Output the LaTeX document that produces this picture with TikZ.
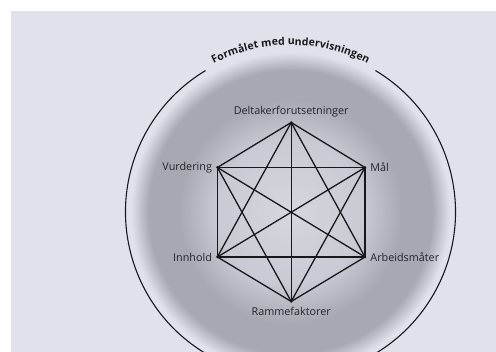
\documentclass[tikz,border=0pt]{standalone}
\usepackage{fontspec}
\setmainfont{Open Sans}
\usepackage{xcolor}
\usetikzlibrary{decorations.text}

\definecolor{pagebg}{RGB}{225,225,235}
\definecolor{discin}{RGB}{214,214,223}
\definecolor{discmid}{RGB}{202,202,212}
\definecolor{discring}{RGB}{168,168,179}
\definecolor{linecol}{RGB}{24,24,28}
\definecolor{labcol}{RGB}{35,35,40}

\pgfdeclareradialshading{discshade}{\pgfpoint{0bp}{0bp}}{%
  color(0bp)=(discin); color(11bp)=(discmid); color(17bp)=(discring);
  color(21.5bp)=(discring); color(24.2bp)=(pagebg); color(50bp)=(pagebg)}

\begin{document}
\begin{tikzpicture}[x=1pt, y=1pt,
    vtx/.style={circle, fill=linecol, inner sep=0pt, minimum size=2.8pt},
    lab/.style={text=labcol, font=\fontsize{10.8}{12}\selectfont, label distance=0.3pt},
    link/.style={draw=linecol, line width=1.3pt}]
    \useasboundingbox (0,0) rectangle (496,352);
    \clip (0,0) rectangle (496,352);

    % page
    \fill[pagebg] (0,0) rectangle (496,352);
    \fill[white] (0,341) rectangle (496,352);
    \fill[white] (0,0) rectangle (11,352);

    % outer circle
    \coordinate (O) at (290.5,140);
    \shade[shading=discshade] (O) circle (165);
    \draw[link, line width=1.1pt] (O) ++(59:165) arc (59:-239:165);
    \path[decorate, decoration={text along path, text align=center, raise=2pt,
        text color=linecol,
        text={|\bfseries\fontsize{10.5}{12}\selectfont|Formålet med undervisningen}}]
        (O) ++(121:165) arc (121:59:165);

    % corners
    \node[vtx, label={[lab]above:Deltakerforutsetninger}] (D) at (291.2,229.5) {};
    \node[vtx, label={[lab]right:Mål}] (M) at (365,184.5) {};
    \node[vtx, label={[lab]right:Arbeidsmåter}] (A) at (365,95) {};
    \node[vtx, label={[lab]below:Rammefaktorer}] (R) at (291.2,50.5) {};
    \node[vtx, label={[lab]left:Innhold}] (I) at (217.4,95) {};
    \node[vtx, label={[lab]left:Vurdering}] (V) at (217.4,184.5) {};

    % every corner to every corner
    \foreach \a/\b in {D/M, D/A, D/R, D/I, D/V, M/A, M/R, M/I, M/V,
                       A/R, A/I, A/V, R/I, R/V, I/V}
        \draw[link] (\a.center) -- (\b.center);
\end{tikzpicture}
\end{document}
